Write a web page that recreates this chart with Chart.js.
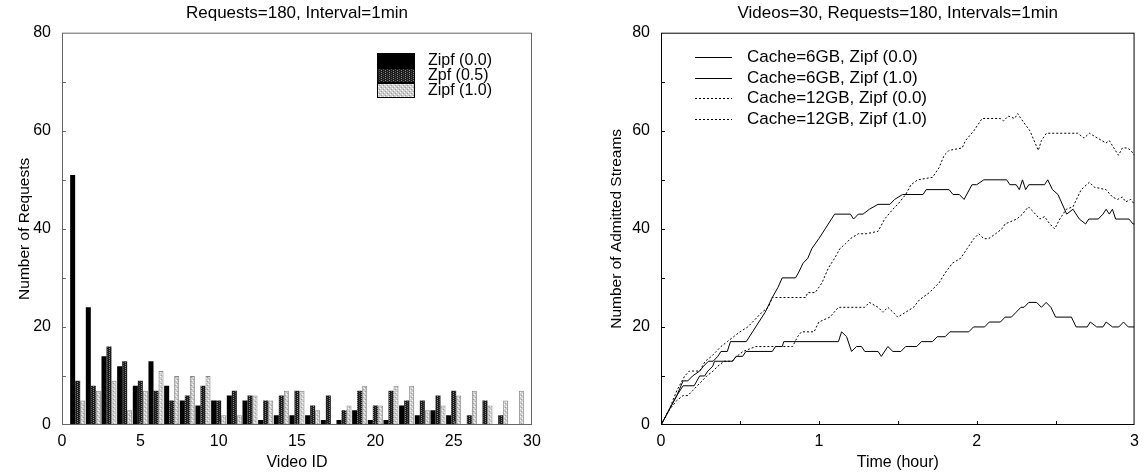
<!DOCTYPE html>
<html>
<head>
<meta charset="utf-8">
<script src="https://cdn.jsdelivr.net/npm/chart.js@4.4.1/dist/chart.umd.min.js"></script>
<style>
  html, body { margin: 0; padding: 0; background: #fff; }
  #wrap { position: relative; width: 1146px; height: 472px; }
  canvas { position: absolute; top: 0; }
  #reqChart { left: 0; }
  #streamChart { left: 573px; }
</style>
</head>
<body>
<div id="wrap">
  <canvas id="reqChart" width="573" height="472"></canvas>
  <canvas id="streamChart" width="573" height="472"></canvas>
</div>
<script>
// left chart: requests per video
const videoIds = [1, 2, 3, 4, 5, 6, 7, 8, 9, 10, 11, 12, 13, 14, 15, 16, 17, 18, 19, 20, 21, 22, 23, 24, 25, 26, 27, 28, 29, 30];
const zipf00 = [51, 24, 14, 12, 8, 13, 8, 5, 4, 5, 6, 5, 1, 2, 2, 2, 1, 1, 3, 1, 1, 4, 2, 3, 2, 0, 0, 0, 0, 0];
const zipf05 = [9, 8, 16, 13, 9, 7, 5, 6, 8, 5, 7, 6, 5, 6, 7, 4, 6, 3, 7, 4, 7, 5, 5, 6, 7, 2, 5, 2, 0, 0];
const zipf10 = [5, 7, 9, 3, 7, 11, 10, 10, 10, 2, 2, 6, 5, 7, 7, 3, 0, 4, 8, 4, 8, 8, 3, 4, 6, 7, 4, 5, 7, 0];

// right chart: admitted streams over time (hours)
const c6z10Time = [0, 0.05, 0.1, 0.14, 0.17, 0.2, 0.245, 0.27, 0.3, 0.33, 0.36, 0.38, 0.42, 0.44, 0.54, 0.58, 0.62, 0.66, 0.705, 0.74, 0.768, 0.852, 0.87, 0.9, 0.93, 0.956, 1.0, 1.04, 1.08, 1.1, 1.2, 1.22, 1.25, 1.28, 1.32, 1.375, 1.45, 1.48, 1.53, 1.66, 1.68, 1.825, 1.85, 1.89, 1.92, 1.97, 2.0, 2.045, 2.19, 2.21, 2.25, 2.27, 2.29, 2.31, 2.33, 2.43, 2.45, 2.48, 2.515, 2.57, 2.61, 2.65, 2.69, 2.71, 2.77, 2.8, 2.82, 2.84, 2.86, 2.88, 2.965, 2.99, 3.0];
const c6z10 = [0, 3, 6, 9, 9, 10, 11, 12, 13, 13, 14, 15, 15, 17, 17, 19, 21, 23, 26, 28, 30, 30, 31, 33, 34, 36, 38, 40, 42, 43, 43, 42, 43, 43, 44, 45, 45, 46, 47, 47, 48, 48, 47, 47, 46, 49, 49, 50, 50, 49, 49, 48, 50, 48, 49, 49, 50, 48, 47, 43, 44, 42, 41, 42, 42, 43, 44, 43, 44, 42, 42, 41, 41];

const c6z00Time = [0, 0.05, 0.1, 0.14, 0.21, 0.245, 0.276, 0.297, 0.328, 0.339, 0.454, 0.475, 0.517, 0.538, 0.705, 0.726, 0.768, 0.778, 1.124, 1.144, 1.176, 1.207, 1.239, 1.27, 1.291, 1.375, 1.396, 1.437, 1.469, 1.52, 1.55, 1.62, 1.65, 1.72, 1.75, 1.8, 1.83, 1.95, 1.98, 2.05, 2.08, 2.15, 2.18, 2.22, 2.25, 2.28, 2.3, 2.33, 2.38, 2.41, 2.44, 2.47, 2.5, 2.6, 2.63, 2.7, 2.72, 2.76, 2.8, 2.82, 2.86, 2.9, 2.93, 2.96, 3.0];
const c6z00 = [0, 3, 6, 8, 8, 10, 10, 11, 12, 13, 13, 14, 14, 15, 15, 16, 16, 17, 17, 19, 18, 15, 16, 16, 15, 15, 14, 16, 15, 15, 16, 16, 17, 17, 18, 18, 19, 19, 20, 20, 21, 21, 22, 22, 23, 24, 24, 25, 25, 24, 25, 24, 22, 22, 20, 20, 21, 20, 20, 21, 20, 20, 21, 20, 20];

const c12z00Time = [0, 0.05, 0.1, 0.14, 0.17, 0.2, 0.23, 0.26, 0.29, 0.33, 0.36, 0.4, 0.45, 0.48, 0.52, 0.6, 0.834, 0.865, 0.89, 0.97, 1.0, 1.07, 1.124, 1.29, 1.32, 1.375, 1.406, 1.437, 1.47, 1.5, 1.55, 1.6, 1.636, 1.7, 1.762, 1.8, 1.846, 1.898, 1.94, 1.982, 2.013, 2.045, 2.076, 2.12, 2.16, 2.18, 2.254, 2.29, 2.327, 2.358, 2.4, 2.43, 2.463, 2.494, 2.526, 2.568, 2.61, 2.662, 2.714, 2.745, 2.819, 2.86, 2.892, 2.923, 2.944, 2.976, 3.0];
const c12z00 = [0, 3, 5, 6, 6, 7, 8, 9, 10, 11, 12, 13, 13, 14, 15, 16, 16, 18, 19, 19, 21, 22, 24, 24, 25, 24, 23, 24, 23, 22, 23, 24, 25.5, 27, 29, 31, 33, 34, 36, 38, 39, 38, 38, 39, 40, 41, 42, 43, 44.5, 43.5, 42, 42.5, 41, 40, 42, 44, 44.5, 48, 49.5, 48.5, 48, 46.5, 46, 46.5, 45.5, 46, 45];

const c12z10Time = [0, 0.05, 0.1, 0.15, 0.18, 0.245, 0.28, 0.32, 0.35, 0.38, 0.42, 0.46, 0.5, 0.55, 0.58, 0.64, 0.68, 0.705, 0.747, 0.915, 0.93, 0.977, 1.02, 1.06, 1.1, 1.134, 1.17, 1.2, 1.25, 1.3, 1.375, 1.417, 1.469, 1.5, 1.55, 1.584, 1.626, 1.72, 1.762, 1.794, 1.825, 1.908, 1.929, 1.982, 2.034, 2.149, 2.17, 2.2, 2.24, 2.26, 2.28, 2.337, 2.39, 2.41, 2.442, 2.64, 2.68, 2.714, 2.766, 2.819, 2.84, 2.898, 2.923, 2.955, 2.976, 3.0];
const c12z10 = [0, 3, 7, 10, 11, 11, 13, 14, 15, 16, 17, 18, 19, 20, 21, 23, 24, 26, 26, 26, 27, 27, 29, 32, 34, 36, 37, 38, 39, 39, 39.5, 42, 44, 45, 47, 49, 50, 50.5, 52.5, 55, 56, 56.5, 58, 60, 62.5, 62.5, 62, 63, 62.5, 63.5, 62.5, 60, 56, 58, 59.5, 59.5, 58.5, 59.5, 58.5, 57.5, 58, 55, 56.5, 56.5, 56, 55];

// tick marks drawn inside the frame
const countTicks = [10, 20, 30, 40, 50, 60, 70];
const videoTicks = [5, 10, 15, 20, 25];
const hourTicks = [0.5, 1, 1.5, 2, 2.5];

const FONT = '"Liberation Sans", Arial, Helvetica, sans-serif';
Chart.defaults.font.family = FONT;
Chart.defaults.font.size = 16;
Chart.defaults.color = '#000';

function makePattern(bg, spots) {
    const c = document.createElement('canvas');
    c.width = 4; c.height = 4;
    const g = c.getContext('2d');
    g.fillStyle = bg;
    g.fillRect(0, 0, 4, 4);
    spots.forEach(s => {
        g.fillStyle = s[2];
        g.fillRect(s[0], s[1], 1, 1);
    });
    return g.createPattern(c, 'repeat');
}

const darkFill = makePattern('#1c1c1c', [[1, 0, '#8a8a8a'], [1, 2, '#8a8a8a'], [3, 1, '#555'], [3, 3, '#555']]);
const lightFill = makePattern('#cfcfcf', [[0, 0, '#ffffff'], [2, 2, '#ffffff'], [1, 3, '#9a9a9a'], [3, 1, '#9a9a9a']]);

const framePlugin = {
    id: 'frame',
    afterDatasetsDraw(chart, args, opts) {
        const {ctx, chartArea: a, scales: {x, y}} = chart;
        ctx.save();
        ctx.strokeStyle = opts.color;
        ctx.lineWidth = 1;
        ctx.strokeRect(a.left + 0.5, a.top + 0.5, a.right - a.left - 1, a.bottom - a.top - 1);
        ctx.beginPath();
        opts.xTicks.forEach(v => {
            const px = Math.round(x.getPixelForValue(v)) + 0.5;
            ctx.moveTo(px, a.bottom);
            ctx.lineTo(px, a.bottom - 4);
        });
        opts.yTicks.forEach(v => {
            const py = Math.round(y.getPixelForValue(v)) + 0.5;
            ctx.moveTo(a.left, py);
            ctx.lineTo(a.left + 4, py);
        });
        ctx.stroke();
        ctx.restore();
    }
};

const barLegend = {
    id: 'barLegend',
    afterDraw(chart) {
        const ctx = chart.ctx;
        ctx.save();
        ctx.font = '16px ' + FONT;
        ctx.textBaseline = 'middle';
        chart.data.datasets.forEach((ds, i) => {
            const y = 53 + i * 15;
            ctx.fillStyle = ds.backgroundColor;
            ctx.fillRect(377, y, 38, 15);
            ctx.strokeStyle = '#000';
            ctx.lineWidth = 1;
            ctx.strokeRect(377.5, y + 0.5, 37, 14);
            ctx.fillStyle = '#000';
            ctx.fillText(ds.label, 428, y + 8);
        });
        ctx.restore();
    }
};

const lineLegend = {
    id: 'lineLegend',
    afterDraw(chart) {
        const ctx = chart.ctx;
        ctx.save();
        ctx.font = '17px ' + FONT;
        ctx.textBaseline = 'middle';
        chart.data.datasets.forEach((ds, i) => {
            const y = Math.round(57 + i * 20.7) + 0.5;
            ctx.strokeStyle = ds.borderColor;
            ctx.lineWidth = 1;
            ctx.setLineDash(ds.borderDash || []);
            ctx.beginPath();
            ctx.moveTo(122, y);
            ctx.lineTo(159, y);
            ctx.stroke();
            ctx.setLineDash([]);
            ctx.fillStyle = '#000';
            ctx.fillText(ds.label, 174, y);
        });
        ctx.restore();
    }
};

function pairs(xs, ys) {
    return xs.map((x, i) => ({x: x, y: ys[i]}));
}

new Chart(document.getElementById('reqChart'), {
    type: 'bar',
    data: {
        datasets: [
            {label: 'Zipf (0.0)', data: pairs(videoIds, zipf00), backgroundColor: '#000', borderWidth: 0},
            {label: 'Zpf (0.5)', data: pairs(videoIds, zipf05), backgroundColor: darkFill, borderWidth: 0},
            {label: 'Zipf (1.0)', data: pairs(videoIds, zipf10), backgroundColor: lightFill, borderColor: '#888', borderWidth: 1}
        ]
    },
    options: {
        responsive: false,
        animation: false,
        layout: {padding: {left: 0, right: 41, top: 0, bottom: 0}},
        datasets: {bar: {categoryPercentage: 0.96, barPercentage: 1.0}},
        scales: {
            x: {
                type: 'linear', min: 0, max: 30, offset: false,
                grid: {display: false, drawTicks: false},
                border: {display: false},
                ticks: {stepSize: 5, padding: 7, maxRotation: 0},
                title: {display: true, text: 'Video ID', padding: {top: 0, bottom: 1}, font: {size: 16, lineHeight: 1}},
                afterFit: s => { s.height = 47; }
            },
            y: {
                min: 0, max: 80,
                grid: {display: false, drawTicks: false},
                border: {display: false},
                ticks: {stepSize: 20, padding: 11},
                title: {display: true, text: 'Number of Requests', padding: {top: 15, bottom: 0}, font: {size: 15.5}},
                afterFit: s => { s.width = 62; }
            }
        },
        plugins: {
            legend: {display: false},
            tooltip: {enabled: false},
            title: {display: true, text: 'Requests=180, Interval=1min', fullSize: false, color: '#000',
                font: {size: 17, weight: 'normal', lineHeight: 1.1}, padding: {top: 4, bottom: 10}},
            frame: {color: '#666', xTicks: videoTicks, yTicks: countTicks}
        }
    },
    plugins: [framePlugin, barLegend]
});

const lineBase = {borderColor: '#000', borderWidth: 1, pointRadius: 0, fill: false, tension: 0};

new Chart(document.getElementById('streamChart'), {
    type: 'line',
    data: {
        datasets: [
            Object.assign({label: 'Cache=6GB, Zipf (0.0)', data: pairs(c6z00Time, c6z00)}, lineBase),
            Object.assign({label: 'Cache=6GB, Zipf (1.0)', data: pairs(c6z10Time, c6z10)}, lineBase),
            Object.assign({label: 'Cache=12GB, Zipf (0.0)', data: pairs(c12z00Time, c12z00), borderDash: [2, 2]}, lineBase),
            Object.assign({label: 'Cache=12GB, Zipf (1.0)', data: pairs(c12z10Time, c12z10), borderDash: [2, 2]}, lineBase)
        ]
    },
    options: {
        responsive: false,
        animation: false,
        layout: {padding: {left: 0, right: 7, top: 0, bottom: 0}},
        scales: {
            x: {
                type: 'linear', min: 0, max: 3,
                grid: {display: false, drawTicks: false},
                border: {display: false},
                ticks: {stepSize: 1, padding: 7, maxRotation: 0},
                title: {display: true, text: 'Time (hour)', padding: {top: 0, bottom: 1}, font: {size: 16, lineHeight: 1}},
                afterFit: s => { s.height = 47; }
            },
            y: {
                min: 0, max: 80,
                grid: {display: false, drawTicks: false},
                border: {display: false},
                ticks: {stepSize: 20, padding: 11},
                title: {display: true, text: 'Number of Admitted Streams', padding: {top: 34, bottom: 0}, font: {size: 15.5}},
                afterFit: s => { s.width = 88; }
            }
        },
        plugins: {
            legend: {display: false},
            tooltip: {enabled: false},
            title: {display: true, text: 'Videos=30, Requests=180, Intervals=1min', fullSize: false, color: '#000',
                font: {size: 17, weight: 'normal', lineHeight: 1.1}, padding: {top: 4, bottom: 10}},
            frame: {color: '#000', xTicks: hourTicks, yTicks: countTicks}
        }
    },
    plugins: [framePlugin, lineLegend]
});
</script>
</body>
</html>
